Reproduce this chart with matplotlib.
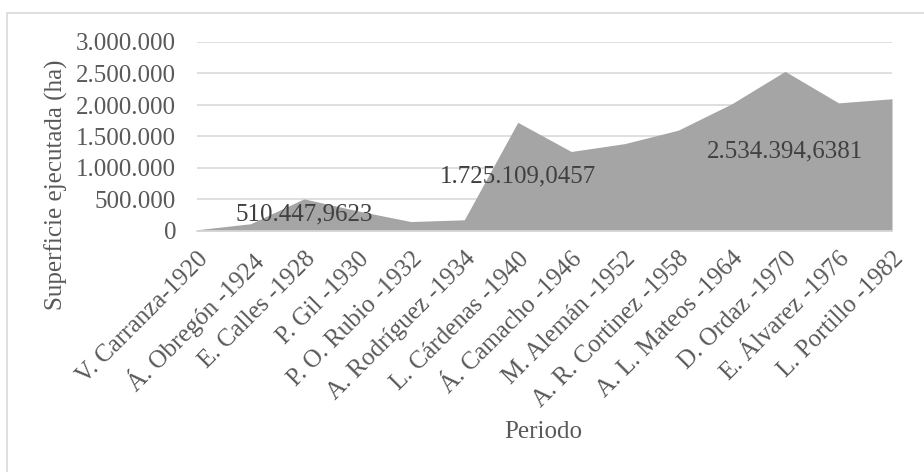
import matplotlib
matplotlib.use('Agg')
from matplotlib import pyplot as plt
from matplotlib.patches import Rectangle
from matplotlib.ticker import FuncFormatter
import numpy as np

plt.rcParams['font.family'] = ['Liberation Serif', 'DejaVu Serif']

periodos = ['V. Carranza-1920', 'Á. Obregón -1924', 'E. Calles -1928', 'P. Gil -1930',
            'P. O. Rubio -1932', 'A. Rodríguez -1934', 'L. Cárdenas -1940',
            'Á. Camacho -1946', 'M. Alemán -1952', 'A. R. Cortinez -1958',
            'A. L. Mateos -1964', 'D. Ordaz -1970', 'E. Álvarez -1976', 'L. Portillo -1982']
superficie = [20000, 115000, 510447.9623, 320000, 150000, 178000, 1725109.0457,
              1262000, 1387000, 1600000, 2018000, 2534394.6381, 2034000, 2099000]
etiquetas = {2: '510.447,9623', 6: '1.725.109,0457', 11: '2.534.394,6381'}

W, H = 924, 472
txt = '#595959'
fig = plt.figure(figsize=(W / 100, H / 100), dpi=100)
# chart border (right and bottom edges fall outside the image)
fig.patches.append(Rectangle((7 / W, -0.01), 1.0, 1 - 13 / H + 0.01, transform=fig.transFigure,
                             fill=False, edgecolor='#d9d9d9', linewidth=1.2))
ax = fig.add_axes([197 / W, 1 - 231 / H, (892 - 197) / W, (231 - 42) / H])

x = np.arange(len(periodos))
ax.fill_between(x, 0, superficie, color='#a5a5a5', linewidth=0, zorder=2)
for i, s in etiquetas.items():
    ax.text(x[i], superficie[i] / 2, s, ha='center', va='center', fontsize=18,
            color='#404040', zorder=3)

ax.set_xlim(0, len(periodos) - 1)
ax.set_ylim(0, 3000000)
ax.set_yticks(np.arange(0, 3000001, 500000))
ax.yaxis.set_major_formatter(FuncFormatter(lambda v, p: f'{int(v):,}'.replace(',', '.')))
ax.grid(axis='y', color='#d9d9d9', linewidth=1.2, zorder=0)
ax.set_axisbelow(True)
for sp in ['top', 'right', 'left']:
    ax.spines[sp].set_visible(False)
ax.spines['bottom'].set_color('#d9d9d9')
ax.spines['bottom'].set_linewidth(1.2)
ax.tick_params(length=0, labelsize=18, labelcolor=txt)
ax.tick_params(axis='y', pad=15)
ax.set_xticks(x)
ax.set_xticklabels(periodos, rotation=45, ha='right', rotation_mode='anchor')
ax.tick_params(axis='x', pad=12)

fig.text(56 / W, 1 - 185 / H, 'Superficie ejecutada (ha)', rotation=90, ha='center',
         va='center', fontsize=18, color=txt)
fig.text(543 / W, 1 - 432 / H, 'Periodo', ha='center', va='center', fontsize=18, color=txt)

plt.savefig('out.png', dpi=100)
